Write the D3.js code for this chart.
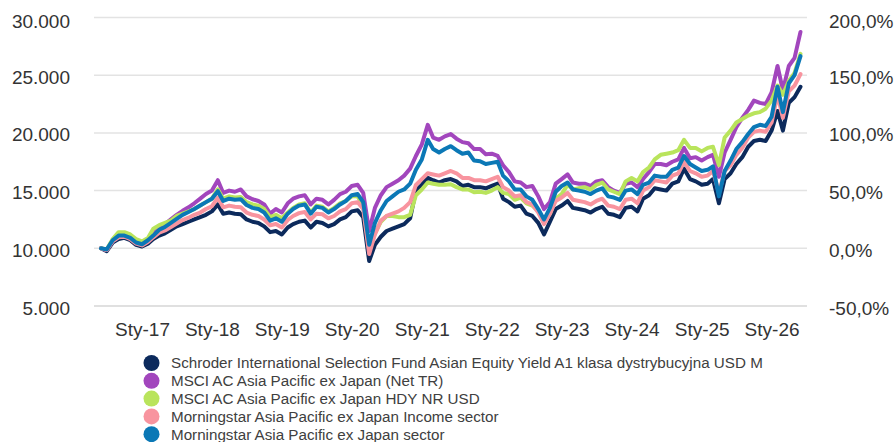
<!DOCTYPE html>
<html><head><meta charset="utf-8">
<script src="https://cdn.jsdelivr.net/npm/d3@7"></script>
<style>
body{margin:0;background:#fff}
svg{display:block}
text{font-family:"Liberation Sans",Arial,Helvetica,sans-serif}
</style>
</head><body>
<svg id="chart" width="896" height="442"></svg>
<script>
// ---------- DATA (monthly, first of month, Jun 2016 - Jun 2026) ----------
const startMonth = "2016-06-01";
const yearTicks = [2017,2018,2019,2020,2021,2022,2023,2024,2025,2026];
const leftTicks = [5000,10000,15000,20000,25000,30000];
const rightTicks = [-0.5,0,0.5,1,1.5,2];

const seriesNames = [
  "Schroder International Selection Fund Asian Equity Yield A1 klasa dystrybucyjna USD M",
  "MSCI AC Asia Pacific ex Japan (Net TR)",
  "MSCI AC Asia Pacific ex Japan HDY NR USD",
  "Morningstar Asia Pacific ex Japan Income sector",
  "Morningstar Asia Pacific ex Japan sector"
];
const seriesColors = ["#0c2a5c","#a246bd","#b9e45c","#f8949f","#0b78b6"];

const schroder = [
  10000, 9750, 10500, 10800, 10900, 10700, 10300, 10150,
  10400, 10800, 11100, 11300, 11600, 11900, 12100, 12300, 12500, 12700, 12900, 13200,
  13800, 13000, 13100, 13000, 12950, 12500, 12300, 12200, 11900, 11400, 11500, 11200,
  11800, 12100, 12300, 12400, 11800, 12300, 12200, 11900, 12100, 12500, 12700, 13200,
  13300, 12700, 8900, 10300, 11000, 11500, 11700, 11900, 12100, 12600, 15000, 15500,
  16100, 15900, 15700, 15900, 16000, 15800, 15400, 15500, 15300, 15300, 15200, 15400,
  15600, 14300, 14000, 13600, 13700, 13000, 12800, 12200, 11200, 12300, 13400, 13700,
  14100, 13500, 13400, 13300, 13100, 13400, 13600, 13000, 12900, 12700, 13500, 13600,
  13200, 14300, 14600, 15200, 15100, 15000, 15600, 15800, 16900, 16000, 15800, 15500,
  15600, 16000, 13900, 16000, 16500, 17300, 17900, 18800, 19300, 19400, 19300, 20200,
  21900, 20200, 22600, 23100, 24000
];
const msciNet = [
  10000, 9850, 10650, 11100, 11150, 10950, 10550, 10400,
  10800, 11300, 11800, 12100, 12500, 12900, 13250, 13550, 13900, 14300, 14700, 15000,
  15900, 14800, 15000, 14900, 15100, 14500, 14250, 14100, 13800, 13000, 13400, 13100,
  13900, 14300, 14500, 14600, 13800, 14300, 14200, 13800, 14200, 14700, 14900, 15400,
  15500, 14800, 11500, 13500, 14600, 15300, 15600, 15900, 16300, 16900, 18000, 19000,
  20700, 19600, 19400, 19700, 19900, 19500, 19200, 19100, 18600, 18600, 18150, 18200,
  18000, 17200, 16600, 15800, 15700, 15300, 15400, 14500, 13400, 14000, 15600, 16000,
  16400, 15700, 15600, 15600, 15400, 15800, 15900, 15300, 15000, 14800, 15600, 15700,
  15300, 16000, 16600, 17300, 17300, 17200, 17500, 17700, 18700, 17800, 17900, 17600,
  17900, 18100, 16200, 18300, 19400, 20500, 21300, 22000, 22800, 22600, 22500, 23500,
  25800, 23700, 25800, 26500, 28750
];
const msciHdy = [
  10000, 9900, 10800, 11400, 11400, 11200, 10800, 10600,
  10900, 11700, 12000, 12200, 12400, 12800, 13000, 13200, 13400, 13700, 14000, 14300,
  15100, 14300, 14500, 14400, 14450, 14000, 13800, 13700, 13400, 12700, 12900, 12600,
  13100, 13500, 13800, 13900, 13100, 13700, 13600, 13200, 13500, 13900, 14100, 14500,
  14500, 13700, 9900, 11300, 12300, 12800, 12800, 12700, 12700, 12900, 14600, 15100,
  15700, 15600, 15500, 15500, 15550, 15300, 15100, 15100, 14850, 14900, 14800, 15000,
  15300, 14800, 14700, 14200, 14400, 13900, 13700, 13200, 12400, 13000, 14300, 14700,
  15500, 15100, 15200, 15300, 15100, 15500, 15700, 15100, 14900, 14700, 15800, 16100,
  15800, 16600, 17000, 17700, 18100, 18200, 18300, 18500, 19400, 18700, 18700, 18400,
  18700, 18800, 17200, 19600, 20200, 20900, 21200, 21500, 21700, 21800, 22100, 22800,
  24100, 23300, 24500, 25200, 26850
];
const incomeSector = [
  10000, 9850, 10600, 10950, 11000, 10800, 10400, 10250,
  10550, 10950, 11350, 11550, 11850, 12150, 12450, 12650, 12900, 13100, 13400, 13650,
  14400, 13550, 13700, 13600, 13550, 13100, 12900, 12800, 12500, 12000, 12100, 11800,
  12450, 12800, 13050, 13150, 12500, 13000, 12950, 12600, 12800, 13200, 13400, 13900,
  14000, 13400, 9500, 11200, 12400, 12800, 13000, 13200, 13500, 14000, 15500, 16000,
  16500, 16400, 16300, 16500, 16700, 16500, 16100, 16100, 15900, 15900, 15800, 16000,
  16200, 15300, 15000, 14500, 14600, 14000, 13800, 13100, 12100, 13000, 14100, 14400,
  14800, 14200, 14100, 14000, 13800, 14100, 14300, 13700, 13600, 13400, 14200, 14300,
  13900, 15000, 15300, 15900, 15800, 15700, 16300, 16500, 17500, 16700, 16500, 16200,
  16300, 16700, 14800, 16700, 17200, 18100, 18700, 19600, 20100, 20200, 20100, 20900,
  23300, 21300, 23600, 24100, 25100
];
const sector = [
  10000, 9900, 10700, 11100, 11100, 10900, 10500, 10350,
  10700, 11100, 11600, 11850, 12200, 12550, 12900, 13150, 13400, 13700, 14000, 14300,
  14950, 14100, 14300, 14200, 14250, 13750, 13500, 13400, 13100, 12400, 12600, 12300,
  13000, 13400, 13700, 13800, 13000, 13600, 13500, 13100, 13400, 13800, 14100, 14600,
  14700, 14000, 10300, 12200, 13300, 14100, 14500, 14900, 15100, 15600, 16800, 17700,
  19400, 18600, 18300, 18600, 18850, 18500, 18200, 18300, 17600, 17550, 17300, 17400,
  17500, 16300, 15800, 15100, 15100, 14500, 14200, 13400, 12500, 13500, 14900, 15400,
  15700, 15100, 15000, 14900, 14700, 15000, 15200, 14500, 14400, 14200, 15000, 15100,
  14700, 15500, 15700, 16300, 16200, 16200, 16800, 17000, 18000, 17300, 17000, 16700,
  16800, 17100, 14500, 16700, 17600, 18600, 19200, 19900, 20500, 20700, 20600, 21400,
  24000, 21800, 24300, 25000, 26650
];
const seriesValues = [schroder, msciNet, msciHdy, incomeSector, sector];

// ---------- CHART ----------
const svg = d3.select("#chart");
const start = d3.timeParse("%Y-%m-%d")(startMonth);
const dates = schroder.map((_, i) => d3.timeMonth.offset(start, i));

const x = d3.scaleTime().domain([start, dates[dates.length - 1]]).range([101, 800.5]);
const y = d3.scaleLinear().domain([5000, 30000]).range([306, 17.5]);
const yR = d3.scaleLinear().domain([-0.5, 2]).range([306, 17.5]);

const loc = d3.formatLocale({decimal: ",", thousands: ".", grouping: [3], currency: ["", ""], minus: "-"});
const fmtL = loc.format(",");
const fmtR = loc.format(".1%");

// gridlines
svg.append("g").selectAll("line").data(leftTicks).join("line")
  .attr("x1", 94).attr("x2", 807)
  .attr("y1", d => y(d)).attr("y2", d => y(d))
  .attr("stroke", d => d === 5000 ? "#d6d6d6" : "#e3e3e3")
  .attr("stroke-width", 1.5);

// left axis
const gL = svg.append("g").attr("transform", "translate(70,0)")
  .call(d3.axisLeft(y).tickValues(leftTicks).tickFormat(fmtL).tickSize(0).tickPadding(0));
gL.select(".domain").remove();
gL.selectAll("text").attr("font-size", 19).attr("fill", "#333")
  .attr("font-family", "'Liberation Sans',Arial,sans-serif")
  .attr("transform", d => `translate(0,${d === 30000 ? 4 : 2})`);

// right axis
const gR = svg.append("g").attr("transform", "translate(829,0)")
  .call(d3.axisRight(yR).tickValues(rightTicks).tickFormat(fmtR).tickSize(0).tickPadding(0));
gR.select(".domain").remove();
gR.selectAll("text").attr("font-size", 19).attr("fill", "#333")
  .attr("font-family", "'Liberation Sans',Arial,sans-serif")
  .attr("transform", d => `translate(0,${d === 2 ? 4 : 2})`);

// x axis
const tickDates = yearTicks.map(yr => new Date(yr, 0, 1));
const gX = svg.append("g").attr("transform", "translate(0,322)")
  .call(d3.axisBottom(x).tickValues(tickDates)
    .tickFormat(d => "Sty-" + String(d.getFullYear()).slice(2)).tickSize(0).tickPadding(0));
gX.select(".domain").remove();
gX.selectAll("text").attr("font-size", 19).attr("fill", "#333")
  .attr("font-family", "'Liberation Sans',Arial,sans-serif");

// lines
const line = d3.line().x((d, i) => x(dates[i])).y(d => y(d));
svg.append("g").selectAll("path").data(seriesValues).join("path")
  .attr("d", d => line(d))
  .attr("fill", "none")
  .attr("stroke", (d, i) => seriesColors[i])
  .attr("stroke-width", 4)
  .attr("stroke-linejoin", "round")
  .attr("stroke-linecap", "round");

// legend
const lg = svg.append("g").selectAll("g").data(seriesNames).join("g")
  .attr("transform", (d, i) => `translate(151.5,${363 + i * 17.8})`);
lg.append("circle").attr("r", 8).attr("fill", (d, i) => seriesColors[i]);
lg.append("text").attr("x", 19.5).attr("dy", "0.35em")
  .attr("font-size", 15.2).attr("fill", "#404040").text(d => d);
</script>
</body></html>
